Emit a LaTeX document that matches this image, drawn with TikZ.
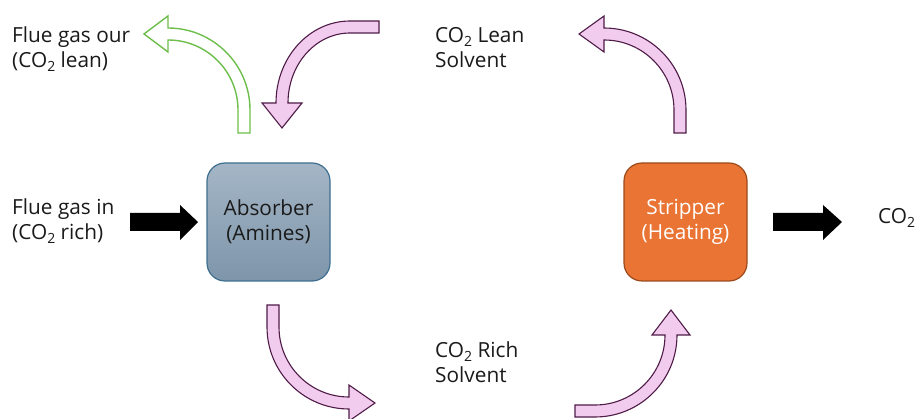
\documentclass[tikz,border=0pt]{standalone}
\usepackage{fontspec}
\setmainfont{Open Sans}
\newcommand\subtwo{\raisebox{-0.28ex}{\fontsize{14}{14}\selectfont 2}}
\definecolor{pinkfill}{HTML}{F2CCEE}
\definecolor{pinkline}{HTML}{4F1C48}
\definecolor{greenline}{HTML}{6DBE4B}
\definecolor{absTop}{HTML}{A4B6C6}
\definecolor{absBot}{HTML}{7E95AA}
\definecolor{absLine}{HTML}{3E6E90}
\definecolor{stripFill}{HTML}{EA7433}
\definecolor{stripLine}{HTML}{9C4A1C}
\definecolor{txt}{HTML}{1A1A1A}
\begin{document}
\begin{tikzpicture}[x=1pt,y=-1pt,
  lbl/.style={anchor=base west,inner sep=0pt,text=txt,font=\fontsize{20.8}{25}\selectfont},
  unit/.style={minimum width=123pt,minimum height=118pt,rounded corners=18pt,line width=1.2pt,align=center,font=\fontsize{20.8}{25}\selectfont},
  pinkarrow/.style={fill=pinkfill,draw=pinkline,line width=1.1pt,line join=miter},
  greenarrow/.style={fill=white,draw=greenline,line width=1.4pt,line join=miter},
  blockarrow/.style={fill=black}]
\useasboundingbox (0,0) rectangle (921,419);

% boxes
\node[unit,draw=absLine,top color=absTop,bottom color=absBot,text=txt] (abs) at (268.5,222) {Absorber\\(Amines)};
\node[unit,draw=stripLine,fill=stripFill,text=white] (strip) at (685.5,222) {Stripper\\(Heating)};

% labels
\node[lbl] (fgout) at (12,43) {\begin{tabular}[t]{@{}l@{}}Flue gas our\\(CO\subtwo{} lean)\end{tabular}};
\node[lbl] (fgin) at (12,215) {\begin{tabular}[t]{@{}l@{}}Flue gas in\\(CO\subtwo{} rich)\end{tabular}};
\node[lbl] (lean) at (435,43) {\begin{tabular}[t]{@{}l@{}}CO\subtwo{} Lean\\Solvent\end{tabular}};
\node[lbl] (rich) at (435,358) {\begin{tabular}[t]{@{}l@{}}CO\subtwo{} Rich\\Solvent\end{tabular}};
\node[lbl] (co2) at (878,224) {CO\subtwo};

% black block arrows
\fill[blockarrow] (130,213) -- (180,213) -- (180,205) -- (198,222) -- (180,240) -- (180,231) -- (130,231) -- cycle;
\fill[blockarrow] (773,213) -- (823,213) -- (823,205) -- (842,222) -- (823,240) -- (823,231) -- (773,231) -- cycle;

% green curved arrow (flue gas out)
\draw[greenarrow] (238,133) -- (250,133) -- (250,110) arc[start angle=0,end angle=-90,radius=82]
  -- (168,16) -- (144,34) -- (168,52) -- (168,40) arc[start angle=-90,end angle=0,radius=70] -- cycle;

% pink: lean solvent into absorber
\draw[pinkarrow] (379,21) -- (350,21) arc[start angle=-90,end angle=-180,x radius=74,y radius=82]
  -- (262,103) -- (282,128) -- (302,103) -- (288,103) arc[start angle=180,end angle=270,x radius=62,y radius=70]
  -- (379,33) -- cycle;

% pink: stripper to lean solvent
\draw[pinkarrow] (674,133) -- (686,133) -- (686,110) arc[start angle=0,end angle=-90,radius=82]
  -- (604,16) -- (579,34) -- (604,52) -- (604,40) arc[start angle=-90,end angle=0,radius=70] -- cycle;

% pink: absorber to rich solvent
\draw[pinkarrow] (279,305) -- (267,305) -- (267,327) arc[start angle=180,end angle=90,radius=82]
  -- (349,421) -- (375,403) -- (349,385) -- (349,397) arc[start angle=90,end angle=180,radius=70] -- cycle;

% pink: rich solvent to stripper
\draw[pinkarrow] (575,405) -- (575,417) -- (595,417) arc[start angle=90,end angle=0,radius=82]
  -- (690,335) -- (671,310) -- (652,335) -- (665,335) arc[start angle=0,end angle=90,radius=70] -- cycle;
\end{tikzpicture}
\end{document}
